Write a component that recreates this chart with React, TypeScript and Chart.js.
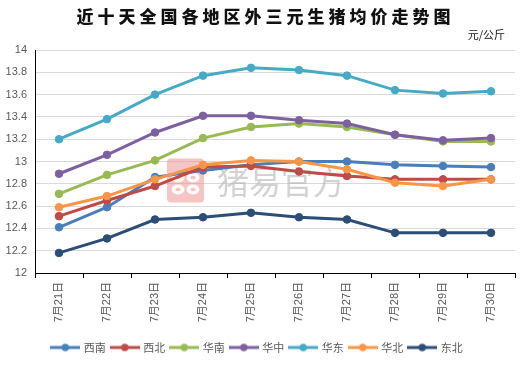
import React, { useEffect, useRef } from "react";
import { Chart, registerables } from "chart.js";

Chart.register(...registerables);

const categories = ["7月21日", "7月22日", "7月23日", "7月24日", "7月25日", "7月26日", "7月27日", "7月28日", "7月29日", "7月30日"];
const xinan = [12.41, 12.59, 12.86, 12.92, 12.97, 13.0, 13.0, 12.97, 12.96, 12.95];
const xibei = [12.51, 12.65, 12.78, 12.95, 12.96, 12.91, 12.87, 12.84, 12.84, 12.84];
const huanan = [12.71, 12.88, 13.01, 13.21, 13.31, 13.34, 13.31, 13.24, 13.18, 13.18];
const huazhong = [12.89, 13.06, 13.26, 13.41, 13.41, 13.37, 13.34, 13.24, 13.19, 13.21];
const huadong = [13.2, 13.38, 13.6, 13.77, 13.84, 13.82, 13.77, 13.64, 13.61, 13.63];
const huabei = [12.59, 12.69, 12.84, 12.97, 13.01, 13.0, 12.93, 12.81, 12.78, 12.84];
const dongbei = [12.18, 12.31, 12.48, 12.5, 12.54, 12.5, 12.48, 12.36, 12.36, 12.36];

const seriesNames = ["西南", "西北", "华南", "华中", "华东", "华北", "东北"];
const seriesColors = ["#4a7ebb", "#be4b48", "#98b954", "#7d60a0", "#46aac5", "#f79646", "#2c4d75"];
const seriesData = [xinan, xibei, huanan, huazhong, huadong, huabei, dongbei];

const yTicks = { min: 12, max: 14, step: 0.2 };
const titleText = "近十天全国各地区外三元生猪均价走势图";
const unitText = "元/公斤";
const watermarkText = "猪易官方";

function legendIcon(color: string): HTMLCanvasElement {
  const c = document.createElement("canvas");
  c.width = 30;
  c.height = 10;
  const ctx = c.getContext("2d")!;
  ctx.strokeStyle = color;
  ctx.lineWidth = 3;
  ctx.beginPath();
  ctx.moveTo(0, 5);
  ctx.lineTo(30, 5);
  ctx.stroke();
  ctx.fillStyle = color;
  ctx.beginPath();
  ctx.arc(15, 5, 3.7, 0, Math.PI * 2);
  ctx.fill();
  return c;
}

const watermarkPlugin = {
  id: "watermark",
  beforeDatasetsDraw(chart: any) {
    const ctx = chart.ctx as CanvasRenderingContext2D;
    const x = chart.scales.x;
    const y = chart.scales.y;
    const lx = x.getPixelForValue(2) + 12;
    const cy = y.getPixelForValue(12.83);
    ctx.save();
    const ly = cy - 22;
    const w = 37;
    const h = 44;
    const pink = "rgba(236, 150, 150, 0.55)";
    ctx.fillStyle = pink;
    ctx.beginPath();
    (ctx as any).roundRect(lx, ly, w, h, 4);
    ctx.fill();
    ctx.fillStyle = "rgba(255,255,255,0.9)";
    const dots = [
      [lx + 11, ly + 19],
      [lx + 26, ly + 19],
      [lx + 11, ly + 31],
      [lx + 26, ly + 31],
    ];
    for (const [dx, dy] of dots) {
      ctx.beginPath();
      ctx.ellipse(dx, dy, 6.5, 5, 0, 0, Math.PI * 2);
      ctx.fill();
    }
    ctx.fillStyle = pink;
    for (const [dx, dy] of dots) {
      ctx.beginPath();
      ctx.ellipse(dx, dy, 2.5, 1.8, 0, 0, Math.PI * 2);
      ctx.fill();
    }
    ctx.fillStyle = "rgba(180,180,180,0.6)";
    ctx.font = "32px 'Noto Sans CJK SC'";
    ctx.textBaseline = "middle";
    ctx.textAlign = "left";
    ctx.fillText(watermarkText, lx + 50, cy + 1);
    ctx.restore();
  },
};

export default function App() {
  const ref = useRef<HTMLCanvasElement | null>(null);

  useEffect(() => {
    document.body.style.margin = "0";
    if (!ref.current) return;
    const chart = new Chart(ref.current, {
      type: "line",
      data: {
        labels: categories,
        datasets: seriesNames.map((name, i) => ({
          label: name,
          data: seriesData[i],
          borderColor: seriesColors[i],
          backgroundColor: seriesColors[i],
          pointBackgroundColor: seriesColors[i],
          pointBorderColor: seriesColors[i],
          borderWidth: 3,
          pointRadius: 3.8,
          pointBorderWidth: 1,
          tension: 0,
          order: seriesNames.length - i,
        })),
      },
      options: {
        animation: false,
        responsive: false,
        maintainAspectRatio: false,
        layout: { padding: { top: 50, right: 12, left: 0, bottom: 3 } },
        plugins: {
          title: { display: false },
          tooltip: { enabled: false },
          legend: {
            display: true,
            position: "bottom",
            labels: {
              usePointStyle: true,
              pointStyleWidth: 26,
              padding: 6,
              color: "#595959",
              font: { size: 11, family: "'Noto Sans CJK SC', sans-serif" },
              generateLabels: (ch: any) =>
                ch.data.datasets.map((ds: any, i: number) => ({
                  text: ds.label,
                  fillStyle: seriesColors[i],
                  strokeStyle: seriesColors[i],
                  lineWidth: 0,
                  pointStyle: legendIcon(seriesColors[i]),
                  hidden: false,
                  datasetIndex: i,
                  fontColor: "#595959",
                })),
            },
          },
        },
        scales: {
          x: {
            offset: true,
            grid: {
              display: true,
              drawOnChartArea: false,
              drawTicks: true,
              tickLength: 5,
              offset: true,
              color: "#000000",
            },
            border: { display: true, color: "#000000", width: 1 },
            ticks: {
              color: "#595959",
              minRotation: 90,
              maxRotation: 90,
              padding: 4,
              font: { size: 11, family: "'Liberation Sans', 'Noto Sans CJK SC', sans-serif" },
            },
            afterFit: (scale: any) => {
              scale.height = 63;
            },
          },
          y: {
            min: yTicks.min,
            max: yTicks.max,
            grid: { color: "#d9d9d9", drawTicks: false, lineWidth: 1 },
            border: { display: true, color: "#000000", width: 1 },
            ticks: {
              stepSize: yTicks.step,
              padding: 8,
              color: "#595959",
              font: { size: 11, family: "'Liberation Sans', sans-serif" },
              callback: (v: any) => String(Number(Number(v).toFixed(1))),
            },
            afterFit: (scale: any) => {
              scale.width = 35;
            },
          },
        },
      },
      plugins: [watermarkPlugin],
    } as any);
    return () => chart.destroy();
  }, []);

  return (
    <div style={{ position: "absolute", left: 0, top: 0, width: 527, height: 366, background: "#fff" }}>
      <canvas ref={ref} width={527} height={366} style={{ position: "absolute", left: 0, top: 0 }} />
      <div
        style={{
          position: "absolute",
          left: 0,
          top: 5,
          width: 527,
          textAlign: "center",
          fontFamily: "'Noto Sans CJK SC', sans-serif",
          fontWeight: 900,
          fontSize: 17,
          letterSpacing: "4px",
          lineHeight: "22px",
          color: "#111",
          paddingLeft: 4,
          boxSizing: "border-box",
        }}
      >
        {titleText}
      </div>
      <div
        style={{
          position: "absolute",
          right: 22,
          top: 27,
          fontFamily: "'Noto Sans CJK SC', sans-serif",
          fontSize: 11,
          lineHeight: "14px",
          color: "#111",
        }}
      >
        {unitText}
      </div>
    </div>
  );
}
